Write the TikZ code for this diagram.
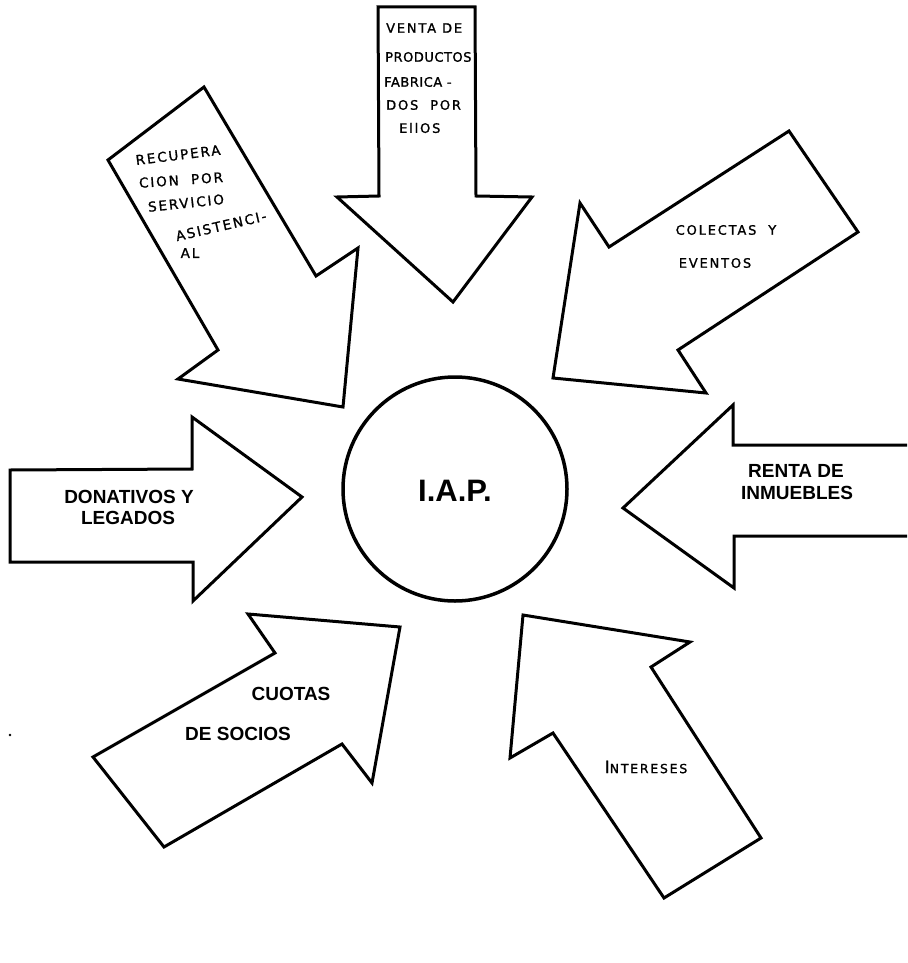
\documentclass[tikz,border=0pt]{standalone}
\usepackage{fontspec}
\setmainfont{Liberation Sans}
\newfontfamily\handfont[LetterSpace=14,FakeBold=1.2]{DejaVu Sans}
\newfontfamily\handtight[LetterSpace=4,FakeBold=1.2]{DejaVu Sans}
\begin{document}
\begin{tikzpicture}[x=1pt,y=-1pt]
\tikzset{
  arrowshape/.style={draw=black,line width=3pt,line join=miter,fill=white},
  boldlabel/.style={font=\fontsize{19pt}{21pt}\selectfont\bfseries,align=center,inner sep=0pt},
  handlabel/.style={font=\handfont\fontsize{13pt}{15pt}\selectfont,inner sep=0pt},
  handlabeltight/.style={font=\handtight\fontsize{13pt}{15pt}\selectfont,inner sep=0pt},
  handlabelbig/.style={font=\handfont\fontsize{13.5pt}{15pt}\selectfont,inner sep=0pt}
}
\useasboundingbox (0,0) rectangle (907,963);
\fill[white] (0,0) rectangle (907,963);

% Centre circle
\node[draw=black,line width=3.5pt,circle,minimum size=224pt,inner sep=0pt] (iap) at (455,489) {};
\node[font=\fontsize{31pt}{33pt}\selectfont\bfseries,inner sep=0pt] (iaptext) at (455,491) {I.A.P.};

% Venta de productos (top, pointing down)
\draw[arrowshape] (378,7) -- (475,7) -- (476,196) -- (532,197) -- (453,302) -- (337,197) -- (379,196) -- cycle;
\node[handlabel,anchor=west] (v1) at (386,28) {VENTA DE};
\node[handlabeltight,anchor=west] (v2) at (385,57) {PRODUCTOS};
\node[handlabeltight,anchor=west] (v3) at (384,82) {FABRICA -};
\node[handlabel,anchor=west] (v4) at (386,105) {DOS\ \ POR};
\node[handlabel,anchor=west] (v5) at (399,128) {EllOS};

% Recuperacion (upper left, pointing down-right)
\draw[arrowshape] (204,87) -- (108,160) -- (218,350) -- (178,379) -- (343,407) -- (358,248) -- (316,276) -- cycle;
\node[handlabelbig,rotate=7] (r1) at (178,155) {RECUPERA};
\node[handlabelbig,rotate=4] (r2) at (181,180) {CION\ \ POR};
\node[handlabelbig,rotate=6] (r3) at (186,203) {SERVICIO};
\node[handlabelbig,rotate=13] (r4) at (221,226) {ASISTENCI-};
\node[handlabelbig] (r5) at (190,253) {AL};

% Colectas y eventos (upper right, pointing down-left)
\draw[arrowshape] (789,131) -- (858,232) -- (678,350) -- (706,393) -- (553,378) -- (580,203) -- (609,247) -- cycle;
\node[handlabel] (c1) at (726,230) {COLECTAS\ \ Y};
\node[handlabel] (c2) at (715,263) {EVENTOS};

% Donativos y legados (left, pointing right)
\draw[arrowshape] (10,470) -- (192,469) -- (192,417) -- (302,497) -- (193,601) -- (193,562) -- (10,562) -- cycle;
\node[boldlabel] (d1) at (129,497) {DONATIVOS Y};
\node[boldlabel] (d2) at (128,518) {LEGADOS};

% Renta de inmuebles (right, pointing left)
\draw[arrowshape] (907,445) -- (733,445) -- (733,405) -- (623,508) -- (734,588) -- (734,536) -- (907,536);
\node[boldlabel] (re1) at (796,471) {RENTA DE};
\node[boldlabel] (re2) at (797,493) {INMUEBLES};

% Cuotas de socios (lower left, pointing up-right)
\draw[arrowshape] (93,757) -- (164,847) -- (342,744) -- (372,783) -- (400,627) -- (248,614) -- (275,653) -- cycle;
\node[boldlabel] (cu1) at (291,694) {CUOTAS};
\node[boldlabel] (cu2) at (238,734) {DE SOCIOS};

% Intereses (lower right, pointing up-left)
\draw[arrowshape] (523,615) -- (690,642) -- (651,667) -- (761,838) -- (664,898) -- (553,733) -- (510,758) -- cycle;
\node[inner sep=0pt,font=\handfont\fontsize{12.5pt}{14pt}\selectfont] (int) at (646,767) {{\fontsize{17pt}{17pt}\selectfont I}NTERESES};

% small speck
\fill[black] (10,735) circle (1.3pt);
\end{tikzpicture}
\end{document}
